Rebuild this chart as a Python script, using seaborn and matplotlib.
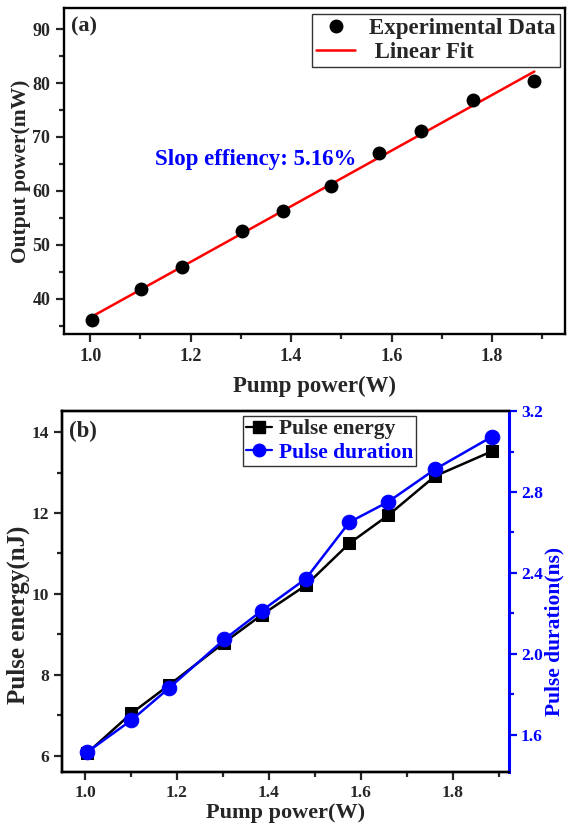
import numpy as np
import pandas as pd
import matplotlib
matplotlib.use("Agg")
import matplotlib.pyplot as plt
from matplotlib.ticker import MultipleLocator
from matplotlib.lines import Line2D
import seaborn as sns

# ---------------- data ----------------
pump_power = [1.004, 1.101, 1.183, 1.303, 1.384, 1.480, 1.575, 1.659, 1.761, 1.884]
output_power = [36.0, 41.9, 46.0, 52.5, 56.3, 60.9, 67.0, 71.1, 76.8, 80.4]
pulse_energy = [6.06, 7.05, 7.75, 8.80, 9.48, 10.21, 11.25, 11.94, 12.91, 13.52]
pulse_duration = [1.514, 1.673, 1.832, 2.072, 2.213, 2.371, 2.651, 2.751, 2.912, 3.072]
x_ticks = [1.0, 1.2, 1.4, 1.6, 1.8]
top_y_ticks = [40, 50, 60, 70, 80, 90]
bot_y_ticks = [6, 8, 10, 12, 14]
right_y_ticks = [1.6, 2.0, 2.4, 2.8, 3.2]

sns.set_style("ticks")
plt.rcParams["font.family"] = ["Liberation Serif", "DejaVu Serif"]
plt.rcParams["font.weight"] = "bold"
plt.rcParams["axes.labelweight"] = "bold"

BLUE = "#0000ff"
RED = "#ff0000"

df_a = pd.DataFrame({"x": pump_power, "y": output_power})
df_b = pd.DataFrame({"x": pump_power, "e": pulse_energy, "d": pulse_duration})

fig = plt.figure(figsize=(5.67, 8.24), dpi=100)

# ---------------- panel (a) ----------------
ax1 = fig.add_axes([0.1129, 0.5947, 0.8836, 0.3956])
sns.regplot(data=df_a, x="x", y="y", ax=ax1, scatter=False, ci=None,
            color=RED, line_kws={"linewidth": 1.8, "label": "Linear Fit", "zorder": 2})
sns.scatterplot(data=df_a, x="x", y="y", ax=ax1, color="black", s=100,
                edgecolor="black", linewidth=0, zorder=3, label="Experimental Data")
ax1.set_xlim(0.948, 1.945)
ax1.set_ylim(33.5, 93.9)
ax1.set_xticks(x_ticks)
ax1.set_yticks(top_y_ticks)
ax1.xaxis.set_minor_locator(MultipleLocator(0.1))
ax1.yaxis.set_minor_locator(MultipleLocator(5))
ax1.set_xticklabels([f"{v:.1f}" for v in x_ticks])
ax1.set_yticklabels([str(v) for v in top_y_ticks])
ax1.tick_params(which="major", direction="out", length=6, width=1.6, labelsize=13,
                top=False, right=False, pad=4)
ax1.tick_params(which="minor", direction="out", length=3.5, width=1.6,
                top=False, right=False)
for s in ax1.spines.values():
    s.set_linewidth(1.7)
    s.set_color("black")
    s.set_visible(True)
ax1.set_xlabel("Pump power(W)", fontsize=16.5, fontweight="bold", labelpad=8)
ax1.set_ylabel("Output power(mW)", fontsize=15.5, fontweight="bold")
ax1.yaxis.set_label_coords(-0.066, 0.5)
ax1.text(0.014, 0.942, "(a)", transform=ax1.transAxes, fontsize=16,
         fontweight="bold", ha="left", va="center")
ax1.text(1.129, 65.9, "Slop effiency: 5.16%", color=BLUE, fontsize=16.5,
         fontweight="bold", ha="left", va="center")
h_a = [Line2D([], [], marker="o", color="black", linestyle="none", markersize=9),
       Line2D([], [], color=RED, linewidth=1.8)]
leg_a = ax1.legend(h_a, ["Experimental Data", " Linear Fit"], loc="upper right",
                   bbox_to_anchor=(0.99, 0.982), borderaxespad=0, fancybox=False,
                   framealpha=1, edgecolor="#333333", handlelength=1.7,
                   handletextpad=0.6, labelspacing=0.1, borderpad=0.2,
                   prop={"weight": "bold", "size": 16.5})
leg_a.get_frame().set_linewidth(1.0)

# ---------------- panel (b) ----------------
ax2 = fig.add_axes([0.1093, 0.0631, 0.7884, 0.4381])
sns.lineplot(data=df_b, x="x", y="e", ax=ax2, color="black", marker="s",
             markersize=9, markeredgecolor="black", linewidth=1.8, label="Pulse energy")
ax2.set_xlim(0.95, 1.922)
ax2.set_ylim(5.6, 14.52)
ax2.set_xticks(x_ticks)
ax2.set_yticks(bot_y_ticks)
ax2.xaxis.set_minor_locator(MultipleLocator(0.1))
ax2.yaxis.set_minor_locator(MultipleLocator(1))
ax2.set_xticklabels([f"{v:.1f}" for v in x_ticks])
ax2.set_yticklabels([str(v) for v in bot_y_ticks])
ax2.tick_params(which="major", direction="out", length=6, width=1.6, labelsize=12.5,
                top=False, right=False)
ax2.tick_params(which="minor", direction="out", length=3.5, width=1.6,
                top=False, right=False)
for s in ax2.spines.values():
    s.set_linewidth(1.7)
    s.set_color("black")
ax2.spines["right"].set_visible(False)
ax2.set_xlabel("Pump power(W)", fontsize=16, fontweight="bold", labelpad=1)
ax2.set_ylabel("Pulse energy(nJ)", fontsize=18, fontweight="bold")
ax2.yaxis.set_label_coords(-0.072, 0.435)
ax2.text(0.016, 0.942, "(b)", transform=ax2.transAxes, fontsize=16.5,
         fontweight="bold", ha="left", va="center")
if ax2.get_legend() is not None:
    ax2.get_legend().remove()

ax3 = ax2.twinx()
sns.lineplot(data=df_b, x="x", y="d", ax=ax3, color=BLUE, marker="o",
             markersize=10.5, markeredgecolor=BLUE, linewidth=1.8, label="Pulse duration")
ax3.set_ylim(1.417, 3.2)
ax3.set_yticks(right_y_ticks)
ax3.yaxis.set_minor_locator(MultipleLocator(0.2))
ax3.set_yticklabels([f"{v:.1f}" for v in right_y_ticks])
ax3.tick_params(axis="y", which="major", direction="out", length=6, width=1.6,
                labelsize=12.5, colors=BLUE, pad=2.5)
ax3.tick_params(axis="y", which="minor", direction="out", length=3.5, width=1.6,
                colors=BLUE)
for name, s in ax3.spines.items():
    s.set_linewidth(1.7)
    s.set_color("black")
ax3.spines["right"].set_color(BLUE)
ax3.spines["right"].set_linewidth(2.2)
ax3.set_ylabel("Pulse duration(ns)", fontsize=15.5, fontweight="bold", color=BLUE)
ax3.yaxis.set_label_coords(1.08, 0.39)
if ax3.get_legend() is not None:
    ax3.get_legend().remove()

h_b = [Line2D([], [], color="black", marker="s", markersize=8, linewidth=1.6),
       Line2D([], [], color=BLUE, marker="o", markersize=9, linewidth=1.6)]
leg_b = ax3.legend(h_b, ["Pulse energy", "Pulse duration"], loc="upper left",
                   bbox_to_anchor=(0.405, 0.986), borderaxespad=0, fancybox=False,
                   framealpha=1, edgecolor="#333333", handlelength=1.2,
                   handletextpad=0.3, labelspacing=0.15, borderpad=0.15,
                   prop={"weight": "bold", "size": 15.5})
leg_b.get_frame().set_linewidth(1.0)
leg_b.get_texts()[1].set_color(BLUE)

fig.savefig("out.png", dpi=100)
